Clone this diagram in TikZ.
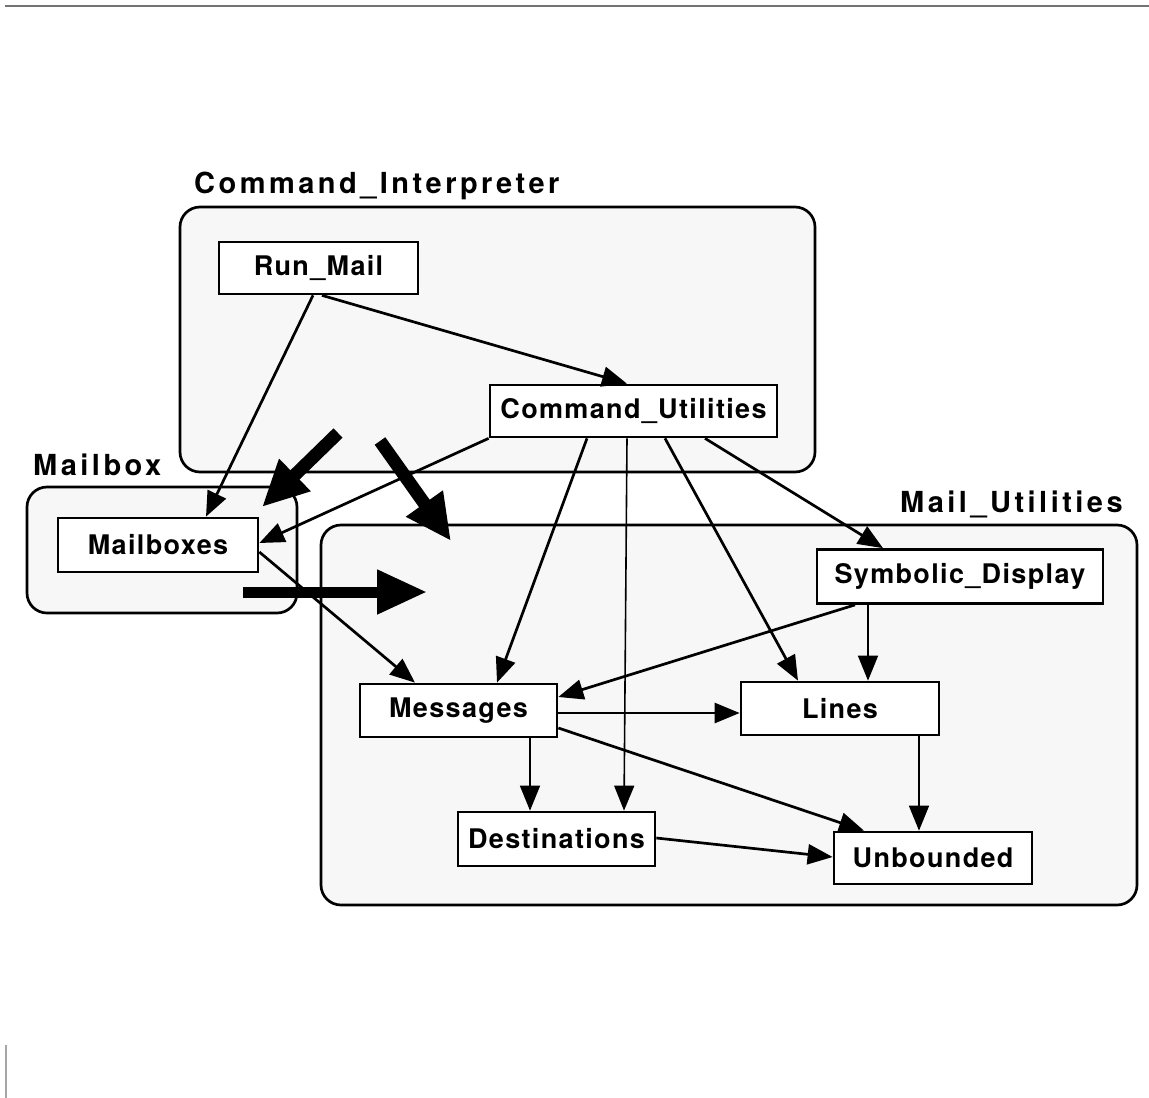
\documentclass[tikz,border=0pt]{standalone}
\usepackage{fontspec}
\setmainfont{TeX Gyre Heros}
\newfontfamily\cellfam[LetterSpace=5]{TeX Gyre Heros}
\newfontfamily\clusterfam[LetterSpace=12]{TeX Gyre Heros}
\usetikzlibrary{arrows.meta}
\begin{document}
\begin{tikzpicture}[x=1pt,y=-1pt,
  group/.style={draw=black, line width=2.7pt, rounded corners=20pt, fill=black!3, inner sep=0pt},
  box/.style={draw=black, line width=2.7pt, fill=white, inner sep=0pt,
    font=\cellfam\bfseries\fontsize{27}{31}\selectfont},
  grouplabel/.style={anchor=base west, inner sep=0pt,
    font=\clusterfam\bfseries\fontsize{29}{33}\selectfont},
  link/.style={line width=2.7pt, -{Triangle[length=25pt,width=20pt]}},
  thinlink/.style={line width=1.6pt, -{Triangle[length=25pt,width=20pt]}},
  bigarrow/.style={line width=13pt, -{Triangle[length=46pt,width=42pt]}},
]
\useasboundingbox (0,0) rectangle (1149,1098);

% page edge marks
\draw[black!55, line width=2pt] (5,6) -- (1149,6);
\draw[black!35, line width=1.2pt] (6,1045) -- (6,1098);

% subsystems
\node[group, minimum width=635, minimum height=265] (ci) at (497.5,339.5) {};
\node[group, minimum width=270, minimum height=126] (mbx) at (162,550) {};
\node[group, minimum width=816, minimum height=380] (mu) at (729,715) {};

\node[grouplabel] (cilabel) at (194,193) {Command\_Interpreter};
\node[grouplabel] (mbxlabel) at (33,475) {Mailbox};
\node[grouplabel] (mulabel) at (900,512) {Mail\_Utilities};

% units
\node[box, minimum width=199, minimum height=52] (rm) at (318.5,268) {Run\_Mail};
\node[box, minimum width=287, minimum height=52] (cu) at (633.5,411) {Command\_Utilities};
\node[box, minimum width=200, minimum height=54] (mb) at (158,545) {Mailboxes};
\node[box, minimum width=286, minimum height=54] (sd) at (960,576.5) {Symbolic\_Display};
\node[box, minimum width=197, minimum height=53] (msg) at (458.5,710.5) {Messages};
\node[box, minimum width=198, minimum height=53] (ln) at (840,708.5) {Lines};
\node[box, minimum width=197, minimum height=54] (dst) at (556.5,839) {Destinations};
\node[box, minimum width=198, minimum height=52] (unb) at (933,858) {Unbounded};

% subsystem dependencies
\coordinate (a1) at (338,433);
\coordinate (a1tip) at (262,507);
\coordinate (a2) at (380,441);
\coordinate (a2tip) at (451,541);
\coordinate (a3) at (243,592);
\coordinate (a3tip) at (427,592);
\draw[bigarrow] (a1) -- (a1tip);
\draw[bigarrow] (a2) -- (a2tip);
\draw[bigarrow, line width=11pt, -{Triangle[length=50pt,width=42pt]}] (a3) -- (a3tip);

% unit dependencies
\draw[link] ([xshift=-5.5pt]rm.south) -- ([xshift=48pt]mb.north);
\draw[link] ([xshift=3.5pt]rm.south) -- ([xshift=-6.5pt]cu.north);
\draw[link] (cu.south west) -- ([yshift=2pt]mb.east);
\draw[link] ([yshift=-7pt]mb.east) -- ([xshift=-43.5pt]msg.north);
\draw[link] ([xshift=-46.5pt]cu.south) -- ([xshift=38.5pt]msg.north);
\draw[thinlink] ([xshift=-6.5pt]cu.south) -- ([xshift=67.5pt]dst.north);
\draw[link] ([xshift=31.5pt]cu.south) -- ([xshift=-42pt]ln.north);
\draw[link] ([xshift=71.5pt]cu.south) -- ([xshift=-77pt]sd.north);
\draw[link] ([xshift=-105pt]sd.south) -- ([yshift=13.5pt]msg.east);
\draw[thinlink] ([xshift=-92pt]sd.south) -- ([xshift=28pt]ln.north);
\draw[link] ([yshift=-2.5pt]msg.east) -- ([yshift=-4.5pt]ln.west);
\draw[thinlink] ([xshift=71.5pt]msg.south) -- ([xshift=-26.5pt]dst.north);
\draw[link] ([yshift=-17.5pt]msg.east) -- ([xshift=-69pt]unb.north);
\draw[thinlink] ([xshift=79pt]ln.south) -- ([xshift=-14pt]unb.north);
\draw[link] ([yshift=1pt]dst.east) -- ([yshift=1pt]unb.west);
\end{tikzpicture}
\end{document}
